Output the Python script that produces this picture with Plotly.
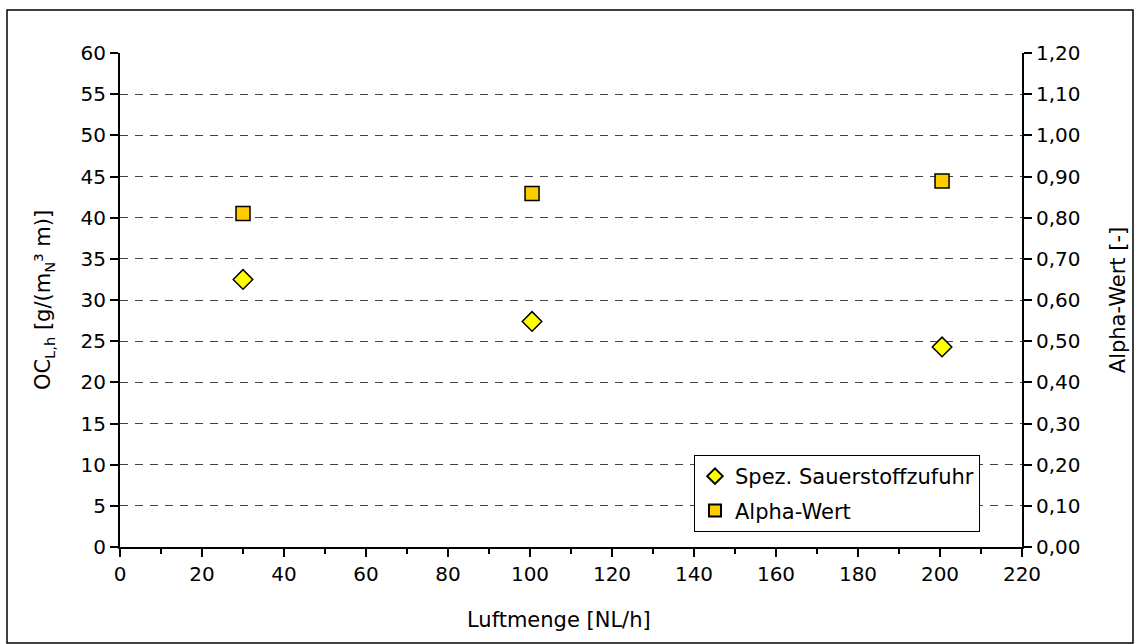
import plotly.graph_objects as go

# Messwerte
luftmenge = [30, 100.5, 200.5]                 # NL/h
sauerstoffzufuhr = [32.5, 27.4, 24.3]          # g/(mN³ m)
alpha_wert = [0.81, 0.859, 0.889]              # -

W, H = 1134, 644
L, R, T, B = 120, 112, 53, 97
FONT = "DejaVu Sans"
FS = 20
FS_TITLE = 21


def px_to_paper_x(px):
    return (px - L) / (W - L - R)


def px_to_paper_y(py):
    return (H - B - py) / (H - T - B)


fig = go.Figure()

fig.add_trace(go.Scatter(
    x=luftmenge, y=sauerstoffzufuhr, mode="markers",
    name="Spez. Sauerstoffzufuhr", legendgroup="a",
    marker=dict(symbol="diamond", size=15, color="#FFFF00",
                line=dict(color="black", width=1.5)),
))
fig.add_trace(go.Scatter(
    x=luftmenge, y=alpha_wert, mode="markers", yaxis="y2",
    name="Alpha-Wert", legendgroup="b",
    marker=dict(symbol="square", size=14, color="#FFCC00",
                line=dict(color="black", width=1.5)),
))

axis_common = dict(
    showline=True, linecolor="black", linewidth=2,
    ticks="outside", ticklen=8, tickwidth=2, tickcolor="black",
    zeroline=False, automargin=False,
    tickfont=dict(family=FONT, size=FS, color="black"),
)

fig.update_layout(
    width=W, height=H,
    margin=dict(l=L, r=R, t=T, b=B),
    paper_bgcolor="white", plot_bgcolor="white",
    separators=",.",
    font=dict(family=FONT, size=FS, color="black"),
    showlegend=True,
    xaxis=dict(
        range=[0, 220], dtick=20, tick0=0,
        showgrid=False,
        minor=dict(dtick=10, ticks="outside", ticklen=5, tickwidth=2,
                   tickcolor="black", showgrid=False),
        **axis_common,
    ),
    yaxis=dict(
        range=[0, 60], dtick=5, tick0=0,
        showgrid=True, gridcolor="#444444", gridwidth=1, griddash="8px,7px",
        title=dict(text="OC<sub>L,h</sub> [g/(m<sub>N</sub>³ m)]", standoff=24,
                   font=dict(family=FONT, size=FS_TITLE)),
        **axis_common,
    ),
    yaxis2=dict(
        range=[0, 1.2], dtick=0.1, tick0=0, tickformat=".2f",
        overlaying="y", side="right", showgrid=False,
        title=dict(text="Alpha-Wert [-]", standoff=31,
                   font=dict(family=FONT, size=FS_TITLE)),
        **axis_common,
    ),
    legend=dict(
        x=px_to_paper_x(694), y=px_to_paper_y(455),
        xanchor="left", yanchor="top",
        bgcolor="white", bordercolor="black", borderwidth=1,
        font=dict(family=FONT, size=FS_TITLE),
        tracegroupgap=4,
        itemsizing="constant",
    ),
    annotations=[dict(
        text="Luftmenge [NL/h]", xref="paper", yref="paper",
        x=px_to_paper_x(559), y=px_to_paper_y(620),
        xanchor="center", yanchor="middle", showarrow=False,
        font=dict(family=FONT, size=FS_TITLE),
    )],
    shapes=[dict(
        type="rect", xref="paper", yref="paper",
        x0=px_to_paper_x(7), x1=px_to_paper_x(1133),
        y0=px_to_paper_y(643), y1=px_to_paper_y(10),
        line=dict(color="black", width=1.5), fillcolor="rgba(0,0,0,0)",
        layer="below",
    )],
)

fig.write_html("out.html")
